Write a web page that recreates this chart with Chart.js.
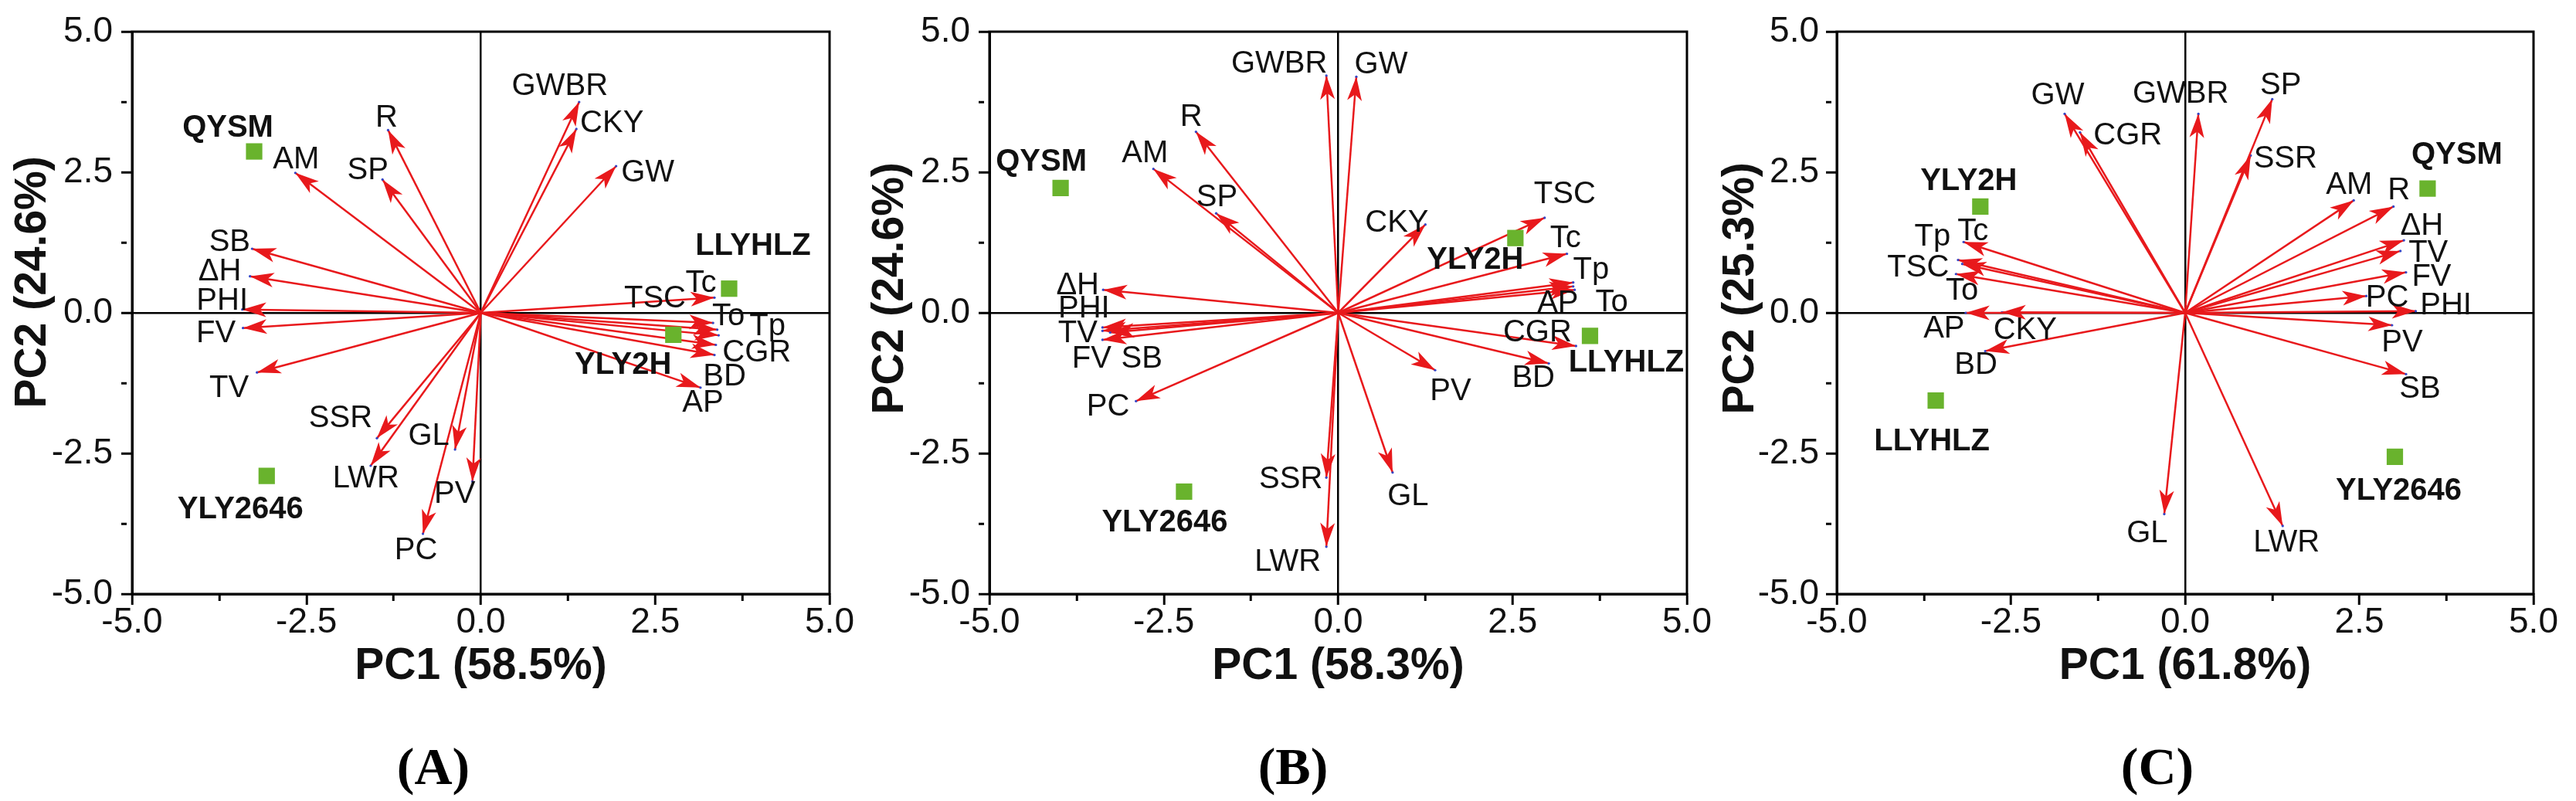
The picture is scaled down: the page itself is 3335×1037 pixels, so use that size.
<!DOCTYPE html>
<html lang="en">
<head>
<meta charset="UTF-8">
<title>PCA biplots</title>
<style>
    body { margin: 0; background: #fff; }
    #wrap { position: relative; width: 3335px; height: 1037px; overflow: hidden; }
    .panel { position: absolute; top: 0; height: 1037px; }
    .cap {
        position: absolute;
        top: 958px;
        width: 200px;
        text-align: center;
        font: bold 68px/68px "Times New Roman", "Liberation Serif", serif;
        color: #000;
    }
</style>
</head>
<body>
<div id="wrap">
    <div class="panel" style="left:0;width:1110px">
        <canvas id="chartA" width="1110" height="1037"></canvas>
        <div class="cap" style="left:461px">(A)</div>
    </div>
    <div class="panel" style="left:1110px;width:1110px">
        <canvas id="chartB" width="1110" height="1037"></canvas>
        <div class="cap" style="left:464px">(B)</div>
    </div>
    <div class="panel" style="left:2220px;width:1115px">
        <canvas id="chartC" width="1115" height="1037"></canvas>
        <div class="cap" style="left:473px">(C)</div>
    </div>
</div>

<script src="https://cdn.jsdelivr.net/npm/chart.js"></script>
<script>
// ---- data ----
const majorTicks = [-5, -2.5, 0, 2.5, 5];
const xTitles = ['PC1 (58.5%)', 'PC1 (58.3%)', 'PC1 (61.8%)'];
const yTitles = ['PC2 (24.6%)', 'PC2 (24.6%)', 'PC2 (25.3%)'];
const samples = ['QYSM', 'LLYHLZ', 'YLY2H', 'YLY2646'];

// panel A: variable loadings
const varsA = ['GWBR', 'CKY', 'GW', 'R', 'SP', 'AM', 'SB', 'ΔH', 'PHI', 'FV', 'TV', 'SSR',
               'LWR', 'GL', 'PV', 'PC', 'TSC', 'Tc', 'To', 'Tp', 'CGR', 'BD', 'AP'];
const pc1A = [1.41, 1.37, 1.94, -1.33, -1.41, -2.66, -3.28, -3.31, -3.42, -3.41, -3.21, -1.49,
              -1.58, -0.37, -0.12, -0.83, 3.35, 3.41, 3.33, 3.39, 3.37, 3.35, 3.15];
const pc2A = [3.75, 3.27, 2.61, 3.25, 2.37, 2.49, 1.14, 0.65, 0.06, -0.27, -1.06, -2.23,
              -2.72, -2.43, -3.00, -3.93, 0.27, -0.40, -0.18, -0.30, -0.57, -0.75, -1.33];
const samplePc1A = [-3.25, 3.56, 2.76, -3.07];
const samplePc2A = [2.87, 0.43, -0.39, -2.90];

// panel B
const varsB = ['GWBR', 'GW', 'R', 'AM', 'SP', 'CKY', 'TSC', 'Tc', 'Tp', 'AP', 'To', 'CGR',
               'BD', 'PV', 'GL', 'SSR', 'LWR', 'PC', 'ΔH', 'PHI', 'TV', 'FV', 'SB'];
const pc1B = [-0.17, 0.26, -2.04, -2.65, -1.75, 1.25, 2.96, 3.28, 3.37, 3.37, 3.39, 3.41,
              3.02, 1.39, 0.78, -0.17, -0.17, -2.90, -3.37, -3.38, -3.38, -3.38, -3.27];
const pc2B = [4.22, 4.20, 3.22, 2.56, 1.77, 1.57, 1.69, 1.05, 0.54, 0.47, 0.41, -0.59,
              -0.90, -1.02, -2.84, -2.93, -4.16, -1.57, 0.41, -0.26, -0.32, -0.48, -0.35];
const samplePc1B = [-3.98, 3.61, 2.54, -2.21];
const samplePc2B = [2.22, -0.41, 1.33, -3.18];

// panel C
const varsC = ['GW', 'CGR', 'GWBR', 'SP', 'SSR', 'AM', 'R', 'ΔH', 'TV', 'FV', 'PC', 'PHI',
               'PV', 'SB', 'LWR', 'GL', 'Tc', 'Tp', 'TSC', 'To', 'AP', 'CKY', 'BD'];
const pc1C = [-1.73, -1.51, 0.19, 1.25, 0.94, 2.42, 2.99, 3.14, 3.09, 3.17, 2.60, 3.31,
              2.97, 3.17, 1.40, -0.30, -3.18, -3.26, -3.20, -3.29, -3.15, -2.63, -2.87];
const pc2C = [3.54, 3.21, 3.54, 3.80, 2.80, 2.00, 1.89, 1.29, 1.10, 0.72, 0.30, 0.03,
              -0.22, -1.09, -3.79, -3.58, 1.26, 0.94, 0.87, 0.69, 0.00, 0.01, -0.68];
const samplePc1C = [3.48, -3.58, -2.94, 3.01];
const samplePc2C = [2.21, -1.56, 1.89, -2.56];

// ---- label placement (pixel offsets from the point) ----
const offsetsA = {
    GWBR: [-25, -20], CKY: [46, -7], GW: [41, 9], R: [-2, -15], SP: [-19, -11], AM: [1, -17],
    SB: [-29, -8], 'ΔH': [-39, -6], PHI: [-26, -11], FV: [-35, 7], TV: [-36, 21],
    SSR: [-47, -25], LWR: [-6, 17], GL: [-34, -17], PV: [-23, 17], PC: [-9, 22],
    TSC: [-77, 2], Tc: [-23, -67], To: [20, -8], Tp: [65, -4], CGR: [53, 10], BD: [13, 28], AP: [3, 20],
    QYSM: [-34, -30], LLYHLZ: [31, -55], YLY2H: [-65, 40], YLY2646: [-34, 44]
};
const offsetsB = {
    GWBR: [-61, -15], GW: [32, -15], R: [-6, -19], AM: [-11, -20], SP: [1, -20], CKY: [-37, -2],
    TSC: [26, -30], Tc: [-2, -20], Tp: [23, -16], AP: [-20, 22], To: [48, 17], CGR: [-50, -17],
    BD: [-20, 19], PV: [20, 28], GL: [20, 31], SSR: [-46, 3], LWR: [-50, 20], PC: [-36, 8],
    'ΔH': [-33, -5], PHI: [-24, -24], TV: [-32, 4], FV: [-14, 25], SB: [41, 34],
    QYSM: [-25, -33], LLYHLZ: [47, 35], YLY2H: [-52, 29], YLY2646: [-25, 40]
};
const offsetsC = {
    GW: [-9, -23], CGR: [62, 5], GWBR: [-23, -25], SP: [11, -17], SSR: [45, 5], AM: [-6, -19],
    R: [7, -20], 'ΔH': [23, -18], TV: [36, 3], FV: [33, 6], PC: [27, 3], PHI: [39, -7],
    PV: [13, 23], SB: [18, 20], LWR: [5, 22], GL: [-22, 25], Tc: [12, -13], Tp: [-33, -30],
    TSC: [-57, 5], To: [8, 22], AP: [-28, 21], CKY: [30, 24], BD: [-12, 18],
    QYSM: [38, -43], LLYHLZ: [-5, 53], YLY2H: [-15, -32], YLY2646: [5, 45]
};

const SANS = 'Arial, "Liberation Sans", sans-serif';
const RED = '#e8191c';
const GREEN = '#69b32d';

// arrow heads, drawn under the shafts so the tip dot stays visible
const arrowHeads = {
    id: 'arrowHeads',
    beforeDatasetsDraw(chart) {
        const ctx = chart.ctx;
        chart.data.datasets.forEach((ds, i) => {
            if (!ds.arrow) return;
            const pts = chart.getDatasetMeta(i).data;
            const a = pts[0], b = pts[1];
            const ang = Math.atan2(b.y - a.y, b.x - a.x);
            ctx.save();
            ctx.translate(b.x, b.y);
            ctx.rotate(ang);
            ctx.beginPath();
            ctx.moveTo(0, 0);
            ctx.lineTo(-31, -9.5);
            ctx.lineTo(-23, 0);
            ctx.lineTo(-31, 9.5);
            ctx.closePath();
            ctx.fillStyle = ds.borderColor;
            ctx.fill();
            ctx.restore();
        });
    }
};

// text next to arrow tips and sample points
const pointLabels = {
    id: 'pointLabels',
    afterDatasetsDraw(chart, args, opts) {
        const ctx = chart.ctx;
        chart.data.datasets.forEach((ds, i) => {
            if (!ds.tipLabels) return;
            const pts = chart.getDatasetMeta(i).data;
            ctx.save();
            ctx.font = ds.labelFont;
            ctx.fillStyle = '#111';
            ctx.textAlign = 'center';
            ctx.textBaseline = 'middle';
            ds.tipLabels.forEach((name, j) => {
                if (!name) return;
                const off = opts.offsets[name] || [0, -20];
                ctx.fillText(name, pts[j].x + off[0], pts[j].y + off[1]);
            });
            ctx.restore();
        });
    }
};

// closes the box on the top and right sides
const frame = {
    id: 'frame',
    beforeDatasetsDraw(chart) {
        const {ctx, chartArea: a} = chart;
        ctx.save();
        ctx.strokeStyle = '#000';
        ctx.lineWidth = 3;
        ctx.strokeRect(a.left, a.top, a.right - a.left, a.bottom - a.top);
        ctx.restore();
    }
};

function axis(title, vertical, size, titlePad, tickPad) {
    return {
        type: 'linear',
        min: -5,
        max: 5,
        ticks: {
            stepSize: 1.25,
            autoSkip: false,
            maxRotation: 0,
            padding: tickPad,
            color: '#111',
            font: { family: SANS, size: 46, lineHeight: 1 },
            callback: v => majorTicks.includes(v) ? v.toFixed(1) : ''
        },
        grid: {
            drawOnChartArea: true,
            color: c => c.tick && c.tick.value === 0 ? '#000' : 'rgba(0,0,0,0)',
            lineWidth: 2.5,
            drawTicks: true,
            tickLength: 14,
            tickColor: '#000',
            tickWidth: 3,
            tickBorderDash: c => majorTicks.includes(c.tick.value) ? [] : [7, 40]
        },
        border: { display: true, color: '#000', width: 3 },
        title: {
            display: true,
            text: title,
            color: '#111',
            font: { family: SANS, size: 57, weight: 'bold', lineHeight: 1.2 },
            padding: titlePad
        },
        afterFit: s => {
            if (vertical) s.width = size; else s.height = size;
        }
    };
}

function buildChart(id, p) {
    const datasets = [{
        label: 'samples',
        data: p.sx.map((x, i) => ({ x: x, y: p.sy[i] })),
        tipLabels: samples,
        labelFont: 'bold 40px ' + SANS,
        showLine: false,
        pointStyle: 'rect',
        pointRadius: 15,
        pointBackgroundColor: GREEN,
        pointBorderWidth: 0,
        order: 0
    }];
    p.vars.forEach((name, i) => {
        datasets.push({
            label: name,
            arrow: true,
            data: [{ x: 0, y: 0 }, { x: p.px[i], y: p.py[i] }],
            tipLabels: [null, name],
            labelFont: '40px ' + SANS,
            showLine: true,
            borderColor: RED,
            borderWidth: 2.5,
            pointRadius: [0, 1.6],
            pointBackgroundColor: '#3346c8',
            pointBorderWidth: 0,
            order: 1
        });
    });

    new Chart(document.getElementById(id), {
        type: 'scatter',
        data: { datasets: datasets },
        plugins: [frame, arrowHeads, pointLabels],
        options: {
            responsive: false,
            animation: false,
            layout: { padding: { top: 41, right: p.padRight, bottom: 128, left: 0 } },
            plugins: {
                legend: { display: false },
                tooltip: { enabled: false },
                pointLabels: { offsets: p.offsets }
            },
            scales: {
                x: axis(p.xTitle, false, 140, { top: 0, bottom: 12 }, 0),
                y: axis(p.yTitle, true, p.yWidth, { top: p.yTitlePad, bottom: 0 }, p.yTickPad)
            }
        }
    });
}

buildChart('chartA', {
    vars: varsA, px: pc1A, py: pc2A, sx: samplePc1A, sy: samplePc2A, offsets: offsetsA,
    xTitle: xTitles[0], yTitle: '     ' + yTitles[0],
    yWidth: 171, yTitlePad: 9, yTickPad: 11, padRight: 36
});
buildChart('chartB', {
    vars: varsB, px: pc1B, py: pc2B, sx: samplePc1B, sy: samplePc2B, offsets: offsetsB,
    xTitle: xTitles[1], yTitle: '    ' + yTitles[1],
    yWidth: 171, yTitlePad: 9, yTickPad: 11, padRight: 36
});
buildChart('chartC', {
    vars: varsC, px: pc1C, py: pc2C, sx: samplePc1C, sy: samplePc2C, offsets: offsetsC,
    xTitle: xTitles[2], yTitle: '    ' + yTitles[2],
    yWidth: 158, yTitlePad: 0, yTickPad: 9, padRight: 55
});
</script>
</body>
</html>
